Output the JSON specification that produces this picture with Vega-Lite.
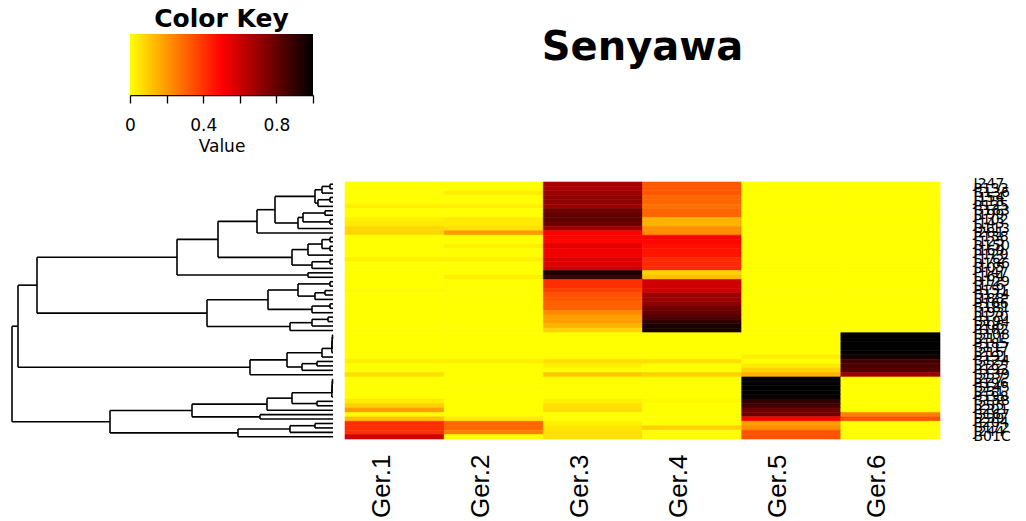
{
  "$schema": "https://vega.github.io/schema/vega-lite/v6.json",
  "background": "white",
  "padding": {"left": 10, "top": 7, "right": 0, "bottom": 0},
  "config": {
    "view": {"stroke": null},
    "font": "DejaVu Sans",
    "axis": {"labelColor": "black", "titleColor": "black", "grid": false}
  },
  "datasets": {
    "heat": [
      {"s": "J247", "r": 0, "G1": 0, "G2": 0, "G3": 0.67, "G4": 0.33, "G5": 0, "G6": 0},
      {"s": "P133", "r": 1, "G1": 0, "G2": 0, "G3": 0.67, "G4": 0.33, "G5": 0, "G6": 0},
      {"s": "B136", "r": 2, "G1": 0, "G2": 0.03, "G3": 0.69, "G4": 0.33, "G5": 0, "G6": 0},
      {"s": "J154", "r": 3, "G1": 0, "G2": 0, "G3": 0.72, "G4": 0.3, "G5": 0, "G6": 0},
      {"s": "J118", "r": 4, "G1": 0, "G2": 0, "G3": 0.72, "G4": 0.3, "G5": 0, "G6": 0},
      {"s": "P135", "r": 5, "G1": 0.03, "G2": 0.03, "G3": 0.69, "G4": 0.28, "G5": 0, "G6": 0},
      {"s": "B163", "r": 6, "G1": 0, "G2": 0, "G3": 0.78, "G4": 0.3, "G5": 0, "G6": 0},
      {"s": "J199", "r": 7, "G1": 0, "G2": 0, "G3": 0.81, "G4": 0.3, "G5": 0, "G6": 0},
      {"s": "P102", "r": 8, "G1": 0.03, "G2": 0.04, "G3": 0.81, "G4": 0.15, "G5": 0, "G6": 0},
      {"s": "J143", "r": 9, "G1": 0.04, "G2": 0.04, "G3": 0.78, "G4": 0.15, "G5": 0, "G6": 0},
      {"s": "B113", "r": 10, "G1": 0.08, "G2": 0.06, "G3": 0.69, "G4": 0.22, "G5": 0, "G6": 0},
      {"s": "J281", "r": 11, "G1": 0.08, "G2": 0.2, "G3": 0.5, "G4": 0.22, "G5": 0, "G6": 0},
      {"s": "P138", "r": 12, "G1": 0, "G2": 0, "G3": 0.49, "G4": 0.51, "G5": 0, "G6": 0},
      {"s": "J125", "r": 13, "G1": 0, "G2": 0, "G3": 0.49, "G4": 0.49, "G5": 0, "G6": 0},
      {"s": "B150", "r": 14, "G1": 0, "G2": 0.03, "G3": 0.55, "G4": 0.47, "G5": 0, "G6": 0},
      {"s": "J169", "r": 15, "G1": 0, "G2": 0, "G3": 0.53, "G4": 0.46, "G5": 0, "G6": 0},
      {"s": "P129", "r": 16, "G1": 0, "G2": 0, "G3": 0.53, "G4": 0.46, "G5": 0, "G6": 0},
      {"s": "J172", "r": 17, "G1": 0.03, "G2": 0.03, "G3": 0.56, "G4": 0.42, "G5": 0, "G6": 0},
      {"s": "B186", "r": 18, "G1": 0, "G2": 0, "G3": 0.56, "G4": 0.42, "G5": 0, "G6": 0},
      {"s": "J105", "r": 19, "G1": 0, "G2": 0, "G3": 0.59, "G4": 0.42, "G5": 0, "G6": 0},
      {"s": "P147", "r": 20, "G1": 0, "G2": 0, "G3": 0.95, "G4": 0.09, "G5": 0, "G6": 0},
      {"s": "J164", "r": 21, "G1": 0, "G2": 0.03, "G3": 0.87, "G4": 0.12, "G5": 0, "G6": 0},
      {"s": "B129", "r": 22, "G1": 0, "G2": 0, "G3": 0.41, "G4": 0.59, "G5": 0, "G6": 0},
      {"s": "J176", "r": 23, "G1": 0, "G2": 0, "G3": 0.41, "G4": 0.59, "G5": 0, "G6": 0},
      {"s": "P151", "r": 24, "G1": 0.01, "G2": 0, "G3": 0.38, "G4": 0.59, "G5": 0, "G6": 0},
      {"s": "B174", "r": 25, "G1": 0, "G2": 0, "G3": 0.34, "G4": 0.69, "G5": 0, "G6": 0},
      {"s": "J188", "r": 26, "G1": 0, "G2": 0, "G3": 0.33, "G4": 0.69, "G5": 0, "G6": 0},
      {"s": "P166", "r": 27, "G1": 0, "G2": 0, "G3": 0.31, "G4": 0.72, "G5": 0, "G6": 0},
      {"s": "B181", "r": 28, "G1": 0, "G2": 0, "G3": 0.31, "G4": 0.78, "G5": 0, "G6": 0},
      {"s": "J193", "r": 29, "G1": 0, "G2": 0, "G3": 0.23, "G4": 0.8, "G5": 0, "G6": 0},
      {"s": "P170", "r": 30, "G1": 0, "G2": 0, "G3": 0.19, "G4": 0.84, "G5": 0, "G6": 0},
      {"s": "B194", "r": 31, "G1": 0, "G2": 0, "G3": 0.19, "G4": 0.9, "G5": 0, "G6": 0},
      {"s": "J206", "r": 32, "G1": 0, "G2": 0, "G3": 0.15, "G4": 0.95, "G5": 0, "G6": 0},
      {"s": "P182", "r": 33, "G1": 0, "G2": 0, "G3": 0.09, "G4": 0.95, "G5": 0, "G6": 0},
      {"s": "B108", "r": 34, "G1": 0, "G2": 0, "G3": 0, "G4": 0, "G5": 0, "G6": 1},
      {"s": "J211", "r": 35, "G1": 0, "G2": 0, "G3": 0, "G4": 0, "G5": 0, "G6": 1},
      {"s": "P185", "r": 36, "G1": 0, "G2": 0, "G3": 0, "G4": 0, "G5": 0, "G6": 1},
      {"s": "B117", "r": 37, "G1": 0, "G2": 0, "G3": 0, "G4": 0, "G5": 0, "G6": 1},
      {"s": "J215", "r": 38, "G1": 0, "G2": 0, "G3": 0, "G4": 0, "G5": 0, "G6": 1},
      {"s": "P191", "r": 39, "G1": 0, "G2": 0, "G3": 0, "G4": 0, "G5": 0.03, "G6": 0.96},
      {"s": "B124", "r": 40, "G1": 0.03, "G2": 0.03, "G3": 0.06, "G4": 0.06, "G5": 0, "G6": 0.87},
      {"s": "J222", "r": 41, "G1": 0, "G2": 0, "G3": 0.03, "G4": 0, "G5": 0.04, "G6": 0.85},
      {"s": "P193", "r": 42, "G1": 0, "G2": 0, "G3": 0, "G4": 0, "G5": 0.09, "G6": 0.84},
      {"s": "B139", "r": 43, "G1": 0.06, "G2": 0, "G3": 0.11, "G4": 0.09, "G5": 0.15, "G6": 0.69},
      {"s": "J227", "r": 44, "G1": 0, "G2": 0, "G3": 0, "G4": 0, "G5": 1, "G6": 0},
      {"s": "P196", "r": 45, "G1": 0, "G2": 0, "G3": 0, "G4": 0, "G5": 1, "G6": 0},
      {"s": "B145", "r": 46, "G1": 0, "G2": 0, "G3": 0, "G4": 0, "G5": 1, "G6": 0},
      {"s": "J231", "r": 47, "G1": 0, "G2": 0, "G3": 0, "G4": 0, "G5": 1, "G6": 0},
      {"s": "P198", "r": 48, "G1": 0, "G2": 0, "G3": 0, "G4": 0, "G5": 1, "G6": 0},
      {"s": "B158", "r": 49, "G1": 0.04, "G2": 0, "G3": 0.03, "G4": 0.01, "G5": 0.9, "G6": 0},
      {"s": "J235", "r": 50, "G1": 0.09, "G2": 0, "G3": 0.06, "G4": 0, "G5": 0.87, "G6": 0},
      {"s": "P201", "r": 51, "G1": 0.19, "G2": 0, "G3": 0.06, "G4": 0, "G5": 0.78, "G6": 0},
      {"s": "B167", "r": 52, "G1": 0, "G2": 0, "G3": 0, "G4": 0, "G5": 0.78, "G6": 0.25},
      {"s": "J239", "r": 53, "G1": 0.12, "G2": 0.04, "G3": 0, "G4": 0, "G5": 0.5, "G6": 0.34},
      {"s": "P204", "r": 54, "G1": 0.41, "G2": 0.3, "G3": 0.03, "G4": 0, "G5": 0.19, "G6": 0},
      {"s": "B172", "r": 55, "G1": 0.41, "G2": 0.3, "G3": 0.05, "G4": 0.09, "G5": 0.22, "G6": 0},
      {"s": "J244", "r": 56, "G1": 0.41, "G2": 0.25, "G3": 0.06, "G4": 0, "G5": 0.34, "G6": 0},
      {"s": "B01C", "r": 57, "G1": 0.59, "G2": 0, "G3": 0.06, "G4": 0, "G5": 0.34, "G6": 0}
    ],
    "dendro": [
      {"h": 0.03, "y1": 0, "h1": 0, "y2": 1, "h2": 0},
      {"h": 0.11, "y1": 0.5, "h1": 0.03, "y2": 2, "h2": 0},
      {"h": 0.03, "y1": 3, "h1": 0, "y2": 4, "h2": 0},
      {"h": 0.15, "y1": 3.5, "h1": 0.03, "y2": 5, "h2": 0},
      {"h": 0.18, "y1": 1.25, "h1": 0.11, "y2": 4.25, "h2": 0.15},
      {"h": 0.08, "y1": 6, "h1": 0, "y2": 7, "h2": 0},
      {"h": 0.03, "y1": 8, "h1": 0, "y2": 9, "h2": 0},
      {"h": 0.3, "y1": 6.5, "h1": 0.08, "y2": 8.5, "h2": 0.03},
      {"h": 0.35, "y1": 7.5, "h1": 0.3, "y2": 10, "h2": 0},
      {"h": 0.58, "y1": 2.75, "h1": 0.18, "y2": 8.75, "h2": 0.35},
      {"h": 0.76, "y1": 5.75, "h1": 0.58, "y2": 11, "h2": 0},
      {"h": 0.03, "y1": 12, "h1": 0, "y2": 13, "h2": 0},
      {"h": 0.03, "y1": 14, "h1": 0, "y2": 15, "h2": 0},
      {"h": 0.11, "y1": 12.5, "h1": 0.03, "y2": 14.5, "h2": 0.03},
      {"h": 0.25, "y1": 13.5, "h1": 0.11, "y2": 16, "h2": 0},
      {"h": 0.03, "y1": 17, "h1": 0, "y2": 18, "h2": 0},
      {"h": 0.21, "y1": 17.5, "h1": 0.03, "y2": 19, "h2": 0},
      {"h": 0.41, "y1": 14.75, "h1": 0.25, "y2": 18.25, "h2": 0.21},
      {"h": 1.15, "y1": 8.375, "h1": 0.76, "y2": 16.5, "h2": 0.41},
      {"h": 0.25, "y1": 20, "h1": 0, "y2": 21, "h2": 0},
      {"h": 1.56, "y1": 12.4375, "h1": 1.15, "y2": 20.5, "h2": 0.25},
      {"h": 0.03, "y1": 22, "h1": 0, "y2": 23, "h2": 0},
      {"h": 0.08, "y1": 24, "h1": 0, "y2": 25, "h2": 0},
      {"h": 0.18, "y1": 24.5, "h1": 0.08, "y2": 26, "h2": 0},
      {"h": 0.35, "y1": 22.5, "h1": 0.03, "y2": 25.25, "h2": 0.18},
      {"h": 0.03, "y1": 27, "h1": 0, "y2": 28, "h2": 0},
      {"h": 0.21, "y1": 27.5, "h1": 0.03, "y2": 29, "h2": 0},
      {"h": 0.65, "y1": 23.875, "h1": 0.35, "y2": 28.25, "h2": 0.21},
      {"h": 0.05, "y1": 30, "h1": 0, "y2": 31, "h2": 0},
      {"h": 0.21, "y1": 30.5, "h1": 0.05, "y2": 32, "h2": 0},
      {"h": 0.43, "y1": 31.25, "h1": 0.21, "y2": 33, "h2": 0},
      {"h": 1.26, "y1": 26.0625, "h1": 0.65, "y2": 32.125, "h2": 0.43},
      {"h": 2.96, "y1": 16.46875, "h1": 1.56, "y2": 29.09375, "h2": 1.26},
      {"h": 0.005, "y1": 34, "h1": 0, "y2": 35, "h2": 0},
      {"h": 0.008, "y1": 34.5, "h1": 0.005, "y2": 36, "h2": 0},
      {"h": 0.01, "y1": 35.25, "h1": 0.008, "y2": 37, "h2": 0},
      {"h": 0.012, "y1": 36.125, "h1": 0.01, "y2": 38, "h2": 0},
      {"h": 0.11, "y1": 37.0625, "h1": 0.012, "y2": 39, "h2": 0},
      {"h": 0.16, "y1": 40, "h1": 0, "y2": 41, "h2": 0},
      {"h": 0.31, "y1": 40.5, "h1": 0.16, "y2": 42, "h2": 0},
      {"h": 0.46, "y1": 38.03125, "h1": 0.11, "y2": 41.25, "h2": 0.31},
      {"h": 0.83, "y1": 39.640625, "h1": 0.46, "y2": 43, "h2": 0},
      {"h": 3.15, "y1": 22.78125, "h1": 2.96, "y2": 41.3203125, "h2": 0.83},
      {"h": 0.005, "y1": 44, "h1": 0, "y2": 45, "h2": 0},
      {"h": 0.008, "y1": 44.5, "h1": 0.005, "y2": 46, "h2": 0},
      {"h": 0.01, "y1": 45.25, "h1": 0.008, "y2": 47, "h2": 0},
      {"h": 0.012, "y1": 46.125, "h1": 0.01, "y2": 48, "h2": 0},
      {"h": 0.16, "y1": 49, "h1": 0, "y2": 50, "h2": 0},
      {"h": 0.41, "y1": 47.0625, "h1": 0.012, "y2": 49.5, "h2": 0.16},
      {"h": 0.66, "y1": 48.28125, "h1": 0.41, "y2": 51, "h2": 0},
      {"h": 0.73, "y1": 52, "h1": 0, "y2": 53, "h2": 0},
      {"h": 1.41, "y1": 49.640625, "h1": 0.66, "y2": 52.5, "h2": 0.73},
      {"h": 0.18, "y1": 54, "h1": 0, "y2": 55, "h2": 0},
      {"h": 0.43, "y1": 54.5, "h1": 0.18, "y2": 56, "h2": 0},
      {"h": 0.95, "y1": 55.25, "h1": 0.43, "y2": 57, "h2": 0},
      {"h": 2.23, "y1": 51.0703, "h1": 1.41, "y2": 56.125, "h2": 0.95},
      {"h": 3.21, "y1": 32.0508, "h1": 3.15, "y2": 53.5977, "h2": 2.23}
    ]
  },
  "bounds": "flush",
  "spacing": 148,
  "vconcat": [
    {
      "bounds": "flush",
      "spacing": 0,
      "hconcat": [
        {
          "width": 120,
          "height": 61,
          "data": {"values": []},
          "mark": "point",
          "encoding": {}
        },
        {
          "width": 183,
          "height": 61,
          "title": {
            "text": "Color Key",
            "fontSize": 25,
            "fontWeight": "bold",
            "font": "DejaVu Sans",
            "color": "black",
            "baseline": "alphabetic",
            "offset": -18,
            "anchor": "middle",
            "frame": "group"
          },
          "data": {"values": [{"lo": 0, "hi": 1}]},
          "mark": {
            "type": "rect",
            "color": {
              "gradient": "linear",
              "x1": 0, "y1": 0, "x2": 1, "y2": 0,
              "stops": [
                {"offset": 0, "color": "#ffff00"},
                {"offset": 0.5, "color": "#ff0000"},
                {"offset": 1, "color": "#000000"}
              ]
            }
          },
          "encoding": {
            "x": {
              "field": "lo",
              "type": "quantitative",
              "scale": {"domain": [0, 1], "nice": false, "zero": false},
              "axis": {
                "title": "Value",
                "values": [0, 0.2, 0.4, 0.6, 0.8, 1],
                "labelExpr": "datum.value == 0 ? '0' : datum.value == 0.4 ? '0.4' : datum.value == 0.8 ? '0.8' : ''",
                "labelFlush": false,
                "labelOverlap": false,
                "tickSize": 8,
                "tickColor": "black",
                "tickWidth": 1.3,
                "domainColor": "black",
                "domainWidth": 1.3,
                "labelFontSize": 17,
                "labelPadding": 14,
                "titleFontSize": 17,
                "titleFontWeight": "normal",
                "titlePadding": 5
              }
            },
            "x2": {"field": "hi"}
          }
        }
      ]
    },
    {
      "bounds": "flush",
      "spacing": 12,
      "hconcat": [
        {
          "width": 323,
          "height": 257,
          "data": {"name": "dendro"},
          "layer": [
            {
              "mark": {"type": "rule", "color": "black", "strokeWidth": 1.6},
              "encoding": {
                "x": {"field": "h", "type": "quantitative", "scale": {"domain": [0, 3.23], "reverse": true, "nice": false, "zero": false}, "axis": null},
                "y": {"field": "y1", "type": "quantitative", "scale": {"domain": [-0.5, 57.5], "reverse": true, "nice": false, "zero": false}, "axis": null},
                "y2": {"field": "y2"}
              }
            },
            {
              "mark": {"type": "rule", "color": "black", "strokeWidth": 1.6},
              "encoding": {
                "x": {"field": "h1", "type": "quantitative", "axis": null},
                "x2": {"field": "h"},
                "y": {"field": "y1", "type": "quantitative", "axis": null}
              }
            },
            {
              "mark": {"type": "rule", "color": "black", "strokeWidth": 1.6},
              "encoding": {
                "x": {"field": "h2", "type": "quantitative", "axis": null},
                "x2": {"field": "h"},
                "y": {"field": "y2", "type": "quantitative", "axis": null}
              }
            }
          ]
        },
        {
          "width": 595,
          "height": 257,
          "title": {
            "text": "Senyawa",
            "fontSize": 40,
            "fontWeight": "bold",
            "font": "DejaVu Sans",
            "color": "black",
            "baseline": "alphabetic",
            "offset": 77,
            "anchor": "middle",
            "frame": "group"
          },
          "data": {"name": "heat"},
          "transform": [
            {"fold": ["G1", "G2", "G3", "G4", "G5", "G6"], "as": ["g", "v"]}
          ],
          "mark": {"type": "rect", "strokeWidth": 0.6},
          "encoding": {
            "x": {
              "field": "g",
              "type": "nominal",
              "scale": {"paddingInner": 0, "paddingOuter": 0},
              "axis": {
                "orient": "bottom",
                "title": null,
                "labelAngle": -90,
                "labelFont": "Liberation Sans",
                "labelFontSize": 26,
                "labelPadding": 15,
                "labelOffset": -13,
                "ticks": false,
                "domain": false,
                "labelExpr": "'Ger.' + slice(datum.label, 1)"
              }
            },
            "y": {
              "field": "s",
              "type": "nominal",
              "sort": {"field": "r", "op": "min"},
              "scale": {"paddingInner": 0, "paddingOuter": 0},
              "axis": {
                "orient": "right",
                "title": null,
                "ticks": false,
                "domain": false,
                "labelPadding": 33,
                "labelFontSize": 14,
                "labelOverlap": false
              }
            },
            "color": {
              "field": "v",
              "type": "quantitative",
              "scale": {"domain": [0, 0.5, 1], "range": ["#ffff00", "#ff0000", "#000000"], "interpolate": "rgb"},
              "legend": null
            },
            "stroke": {
              "field": "v",
              "type": "quantitative",
              "scale": {"domain": [0, 0.5, 1], "range": ["#ffff00", "#ff0000", "#000000"], "interpolate": "rgb"},
              "legend": null
            }
          }
        }
      ]
    }
  ]
}
